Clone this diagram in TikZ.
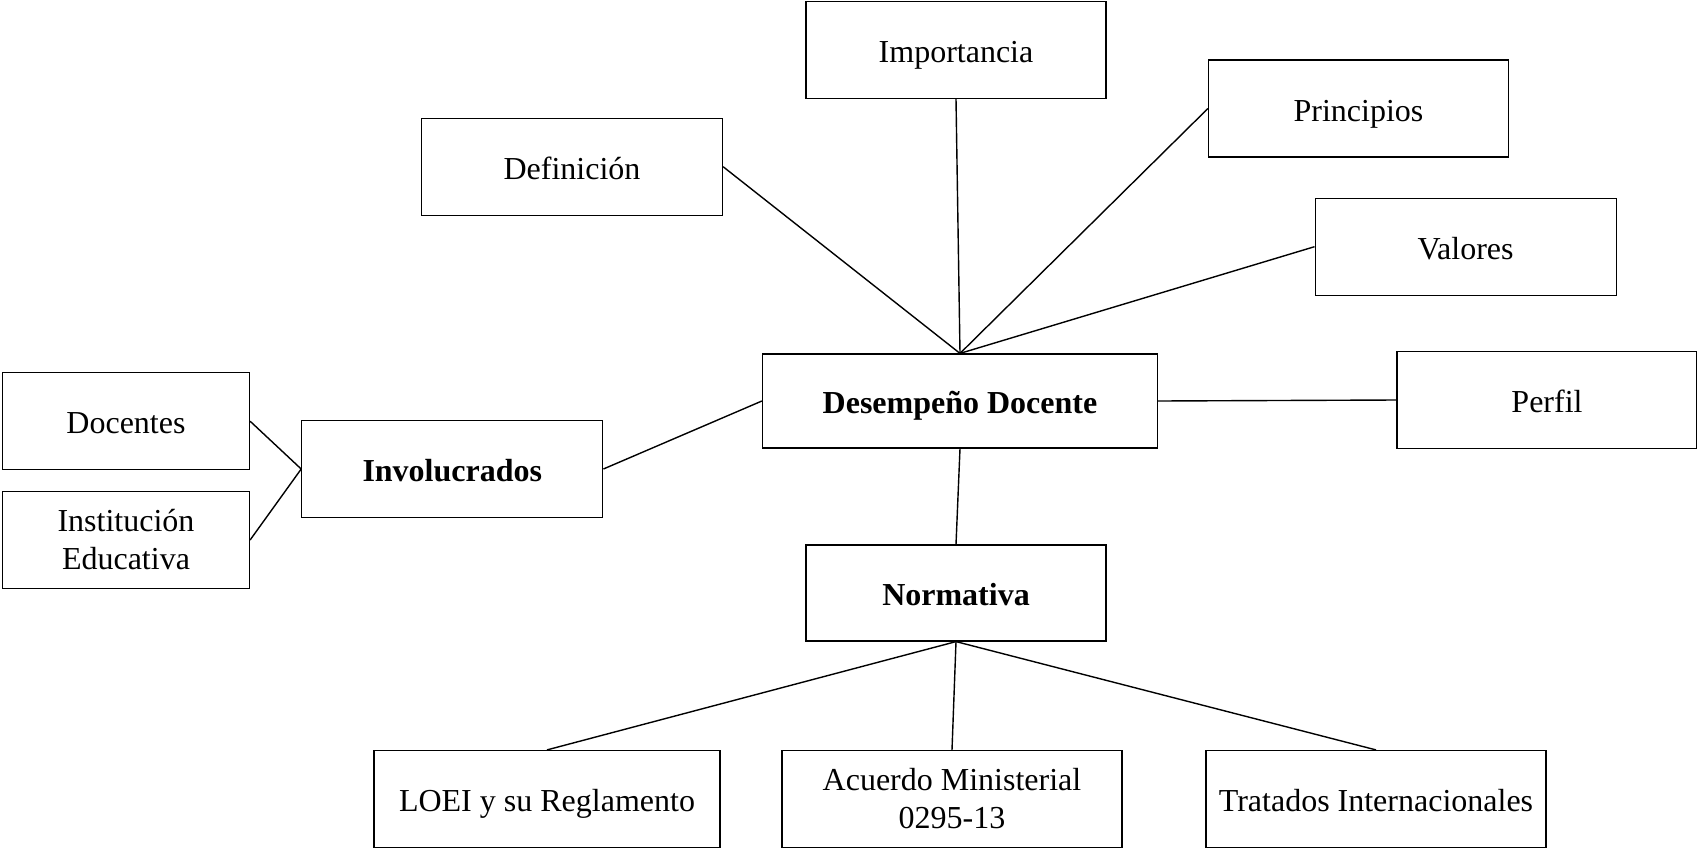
\documentclass[tikz,border=0pt]{standalone}
\usepackage{fontspec}
\setmainfont{Liberation Serif}
\begin{document}
\begin{tikzpicture}[x=1pt,y=-1pt,
  box/.style={draw=black,line width=1.2pt,inner sep=0pt,align=center,
    font=\fontsize{32}{38}\selectfont,minimum height=97pt},
  one/.style={box,text height=25.5pt,text depth=0pt},
  link/.style={draw=black,line width=1.4pt}]
\useasboundingbox (0,0) rectangle (1697,849);
\node[one,minimum width=301pt] (def) at (572,166.7) {Definición};
\node[one,minimum width=300pt] (imp) at (956,50) {Importancia};
\node[one,minimum width=300pt] (pri) at (1358.5,108.5) {Principios};
\node[one,minimum width=301pt] (val) at (1465.6,246.7) {Valores};
\node[one,minimum width=395pt,minimum height=94pt] (des) at (960,401) {\textbf{Desempeño Docente}};
\node[one,minimum width=300pt] (per) at (1547,400) {Perfil};
\node[one,minimum width=301pt] (inv) at (452.3,469) {\textbf{Involucrados}};
\node[one,minimum width=247pt] (doc) at (126,421.2) {Docentes};
\node[box,minimum width=247pt] (ins) at (126,540) {Institución\\Educativa};
\node[one,minimum width=300pt,minimum height=96pt] (nor) at (956,593) {\textbf{Normativa}};
\node[one,minimum width=346pt] (loe) at (547,799) {LOEI y su Reglamento};
\node[box,minimum width=340pt] (acu) at (952,799) {Acuerdo Ministerial\\0295-13};
\node[one,minimum width=340pt] (tra) at (1376,799) {Tratados Internacionales};
\draw[link] (def.east) -- (des.north);
\draw[link] (imp.south) -- (des.north);
\draw[link] (pri.west) -- (des.north);
\draw[link] (val.west) -- (des.north);
\draw[link] (des.east) -- (per.west);
\draw[link] (inv.east) -- (des.west);
\draw[link] (doc.east) -- (inv.west);
\draw[link] (ins.east) -- (inv.west);
\draw[link] (des.south) -- (nor.north);
\draw[link] (nor.south) -- (loe.north);
\draw[link] (nor.south) -- (acu.north);
\draw[link] (nor.south) -- (tra.north);
\end{tikzpicture}
\end{document}
